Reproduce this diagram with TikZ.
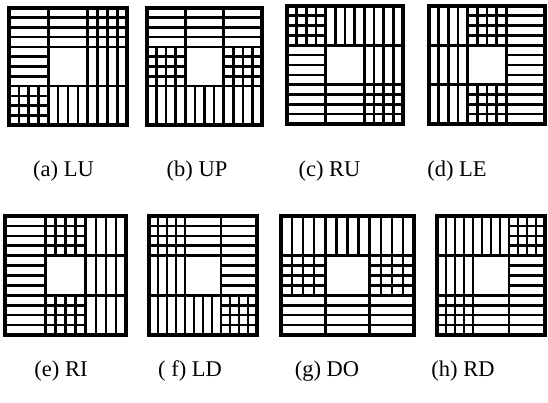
\documentclass[tikz,border=0pt]{standalone}
\usepackage{fontspec}
\setmainfont{Liberation Serif}
\tikzset{
  frameline/.style={line width=3.8pt},
  divline/.style={line width=2.8pt},
  stripeline/.style={line width=2.5pt},
  lbl/.style={font=\fontsize{22.5pt}{26pt}\selectfont, inner sep=0pt, anchor=base}
}
% #1,#2 outer top-left; #3,#4 outer bottom-right; #5 block codes (0 empty,1 horizontal,2 vertical,3 grid)
\newcommand\patsq[5]{%
  \pgfmathsetmacro\pxa{#1+1.9}\pgfmathsetmacro\pya{#2+1.9}%
  \pgfmathsetmacro\pxb{#3-1.9}\pgfmathsetmacro\pyb{#4-1.9}%
  \pgfmathsetmacro\pbw{(\pxb-\pxa)/3}\pgfmathsetmacro\pbh{(\pyb-\pya)/3}%
  \foreach \t [count=\i from 0] in {#5} {%
    \pgfmathtruncatemacro\cc{mod(\i,3)}%
    \pgfmathtruncatemacro\rr{(\i-\cc)/3}%
    \pgfmathsetmacro\bx{\pxa+\cc*\pbw}%
    \pgfmathsetmacro\by{\pya+\rr*\pbh}%
    \ifodd\t\relax
      \foreach \k in {1,2,3} \draw[stripeline] (\bx,{\by+\k*\pbh/4}) -- ++(\pbw,0);
    \fi
    \ifnum\t>1\relax
      \foreach \k in {1,2,3} \draw[stripeline] ({\bx+\k*\pbw/4},\by) -- ++(0,\pbh);
    \fi
  }%
  \draw[divline] ({\pxa+\pbw},\pya) -- ({\pxa+\pbw},\pyb);
  \draw[divline] ({\pxa+2*\pbw},\pya) -- ({\pxa+2*\pbw},\pyb);
  \draw[divline] (\pxa,{\pya+\pbh}) -- (\pxb,{\pya+\pbh});
  \draw[divline] (\pxa,{\pya+2*\pbh}) -- (\pxb,{\pya+2*\pbh});
  \draw[frameline] (\pxa,\pya) rectangle (\pxb,\pyb);
}
\begin{document}
\begin{tikzpicture}[x=1pt,y=-1pt]
  \useasboundingbox (0,0) rectangle (548,403);
  % row 1
  \patsq{7}{6}{129}{127}{1,1,3, 1,0,2, 3,2,2}
  \patsq{145}{6}{264}{127}{1,1,1, 3,0,3, 2,2,2}
  \patsq{285}{4}{405}{126}{3,2,2, 1,0,2, 1,1,3}
  \patsq{427}{4}{547}{126}{2,3,1, 2,0,1, 2,3,1}
  % row 2
  \patsq{3}{214}{128}{337}{1,3,2, 1,0,2, 1,3,2}
  \patsq{147}{214}{259}{337}{3,1,1, 2,0,1, 2,2,3}
  \patsq{279}{214}{416}{337}{2,2,2, 3,0,3, 1,1,1}
  \patsq{435}{214}{547}{337}{2,2,3, 2,0,1, 3,1,1}
  % captions
  \node[lbl] (la) at (63.5,176.5) {(a) LU};
  \node[lbl] (lb) at (197,176.5) {(b) UP};
  \node[lbl] (lc) at (329.5,176.5) {(c) RU};
  \node[lbl] (ld) at (457,176.5) {(d) LE};
  \node[lbl] (le) at (61,376.5) {(e) RI};
  \node[lbl] (lf) at (190,376.5) {( f) LD};
  \node[lbl] (lg) at (327,376.5) {(g) DO};
  \node[lbl] (lh) at (463,376.5) {(h) RD};
\end{tikzpicture}
\end{document}
